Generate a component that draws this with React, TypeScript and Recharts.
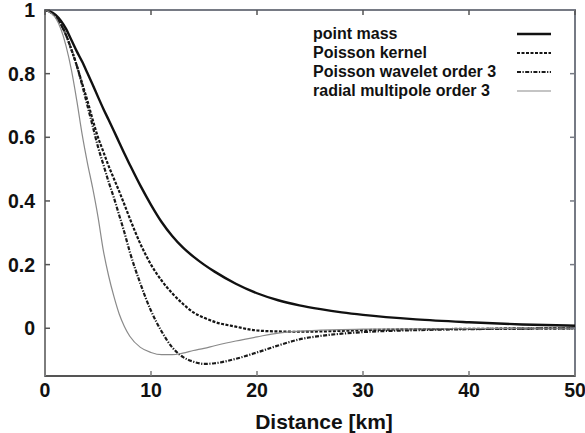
import { LineChart, Line, XAxis, YAxis, ReferenceArea } from "recharts";

// distance from the source point [km]
const distanceKm = [
  0, 1, 2, 2.5, 3, 3.5, 4, 4.5, 5, 5.5, 6, 6.5, 7, 7.5, 8, 9, 10, 11, 12, 13, 14,
  15, 16, 18, 20, 22, 24, 26, 28, 30, 35, 40, 45, 50,
];

// normalized kernel values
const pointMass = [
  1, 0.985, 0.94, 0.905, 0.87, 0.838, 0.802, 0.765, 0.727, 0.69, 0.655, 0.62, 0.584,
  0.548, 0.514, 0.448, 0.388, 0.334, 0.29, 0.254, 0.225, 0.2, 0.178, 0.14, 0.11,
  0.088, 0.072, 0.06, 0.05, 0.042, 0.028, 0.019, 0.012, 0.008,
];
const poissonKernel = [
  1, 0.98, 0.92, 0.875, 0.825, 0.77, 0.715, 0.655, 0.6, 0.555, 0.51, 0.47, 0.43,
  0.388, 0.345, 0.265, 0.2, 0.15, 0.11, 0.077, 0.05, 0.033, 0.02, 0.005, -0.007,
  -0.01, -0.011, -0.01, -0.008, -0.006, -0.003, -0.002, -0.001, 0,
];
const poissonWavelet3 = [
  1, 0.98, 0.92, 0.875, 0.825, 0.765, 0.7, 0.635, 0.57, 0.515, 0.46, 0.41, 0.355,
  0.3, 0.24, 0.14, 0.055, -0.01, -0.06, -0.09, -0.105, -0.112, -0.11, -0.096,
  -0.076, -0.054, -0.035, -0.024, -0.017, -0.012, -0.006, -0.003, -0.001, 0,
];
const radialMultipole3 = [
  1, 0.975, 0.885, 0.81, 0.715, 0.61, 0.52, 0.44, 0.35, 0.245, 0.165, 0.1, 0.045,
  0.005, -0.025, -0.06, -0.076, -0.083, -0.083, -0.078, -0.07, -0.063, -0.055,
  -0.04, -0.027, -0.015, -0.009, -0.006, -0.004, -0.003, -0.002, -0.001, 0, 0,
];

const xTicks = [0, 10, 20, 30, 40, 50];
const yTicks = [0, 0.2, 0.4, 0.6, 0.8, 1];

const data = distanceKm.map((d, i) => ({
  d,
  pointMass: pointMass[i],
  poissonKernel: poissonKernel[i],
  poissonWavelet3: poissonWavelet3[i],
  radialMultipole3: radialMultipole3[i],
}));

const FONT = '"Liberation Sans", Arial, sans-serif';
const AXIS_DARK = "#555555";
const AXIS_MID = "#7d7d7d";
const AXIS_TINT = "#767a84";

const W = 585;
const H = 433;
const M = { top: 10, right: 10, bottom: 0, left: 0 };
const X_AXIS_H = 57;
const Y_AXIS_W = 45;
const PLOT_W = W - M.left - M.right - Y_AXIS_W;
const PLOT_H = H - M.top - M.bottom - X_AXIS_H;

const series = [
  { key: "pointMass", name: "point mass", color: "#111", width: 2.4, dash: undefined },
  { key: "poissonKernel", name: "Poisson kernel", color: "#151515", width: 2.2, dash: "3 1.5" },
  { key: "poissonWavelet3", name: "Poisson wavelet order 3", color: "#1a1a1a", width: 2.2, dash: "4 1.5 1.2 1.5" },
  { key: "radialMultipole3", name: "radial multipole order 3", color: "#8a8a8a", width: 1.2, dash: undefined },
];

const labelStyle = { fill: "#111", fontSize: 19.5, fontWeight: 700, fontFamily: FONT };

// label under the axis, plus the mirrored inward tick on the top edge
function BottomTick({ x, y, payload }: any) {
  const topY = y - 7 - PLOT_H;
  return (
    <g>
      <line x1={x} x2={x} y1={topY} y2={topY + 5} stroke={AXIS_DARK} strokeWidth={1.5} />
      <text x={x} y={y} dy="0.74em" textAnchor="middle" style={labelStyle}>
        {payload.value}
      </text>
    </g>
  );
}

// label left of the axis, plus the mirrored inward tick on the right edge
function LeftTick({ x, y, payload }: any) {
  const rightX = x + 10 + PLOT_W;
  return (
    <g>
      <line x1={rightX} x2={rightX - 5} y1={y} y2={y} stroke={AXIS_TINT} strokeWidth={1.5} />
      <text x={x} y={y} dy="0.36em" textAnchor="end" style={labelStyle}>
        {payload.value}
      </text>
    </g>
  );
}

function KernelLegend() {
  return (
    <div
      style={{
        position: "absolute",
        left: 313,
        top: 24,
        fontFamily: FONT,
        fontWeight: 700,
        fontSize: 16,
        color: "#111",
      }}
    >
      {series.map((s) => (
        <div key={s.key} style={{ display: "flex", alignItems: "center", height: 19 }}>
          <span style={{ width: 204 }}>{s.name}</span>
          <svg width={34} height={6}>
            <line
              x1={0}
              x2={34}
              y1={3}
              y2={3}
              stroke={s.color}
              strokeWidth={s.width}
              strokeDasharray={s.dash}
            />
          </svg>
        </div>
      ))}
    </div>
  );
}

export default function App() {
  return (
    <div style={{ position: "absolute", left: 0, top: 0, width: W, height: H, background: "#fff" }}>
      <LineChart width={W} height={H} data={data} margin={M}>
        {/* negative tickSize turns the ticks inward */}
        <XAxis
          dataKey="d"
          type="number"
          domain={[0, 50]}
          ticks={xTicks}
          height={X_AXIS_H}
          tickSize={-5}
          tickMargin={12}
          tick={<BottomTick />}
          tickLine={{ stroke: AXIS_MID, strokeWidth: 1.5 }}
          axisLine={{ stroke: AXIS_DARK, strokeWidth: 2 }}
          label={{
            value: "Distance [km]",
            position: "insideBottom",
            offset: 4,
            dx: 14,
            style: { ...labelStyle, fontSize: 21 },
          }}
        />
        <YAxis
          type="number"
          domain={[-0.15, 1]}
          ticks={yTicks}
          width={Y_AXIS_W}
          tickSize={-5}
          tickMargin={15}
          tick={<LeftTick />}
          tickLine={{ stroke: AXIS_DARK, strokeWidth: 1.5 }}
          axisLine={{ stroke: AXIS_MID, strokeWidth: 2 }}
          allowDataOverflow
        />
        <ReferenceArea x1={0} x2={50} y1={-0.15} y2={1} fill="none" stroke={AXIS_TINT} strokeWidth={2} />
        {series.map((s) => (
          <Line
            key={s.key}
            dataKey={s.key}
            name={s.name}
            type="monotone"
            stroke={s.color}
            strokeWidth={s.width}
            strokeDasharray={s.dash}
            dot={false}
            activeDot={false}
            isAnimationActive={false}
          />
        ))}
      </LineChart>
      <KernelLegend />
    </div>
  );
}
